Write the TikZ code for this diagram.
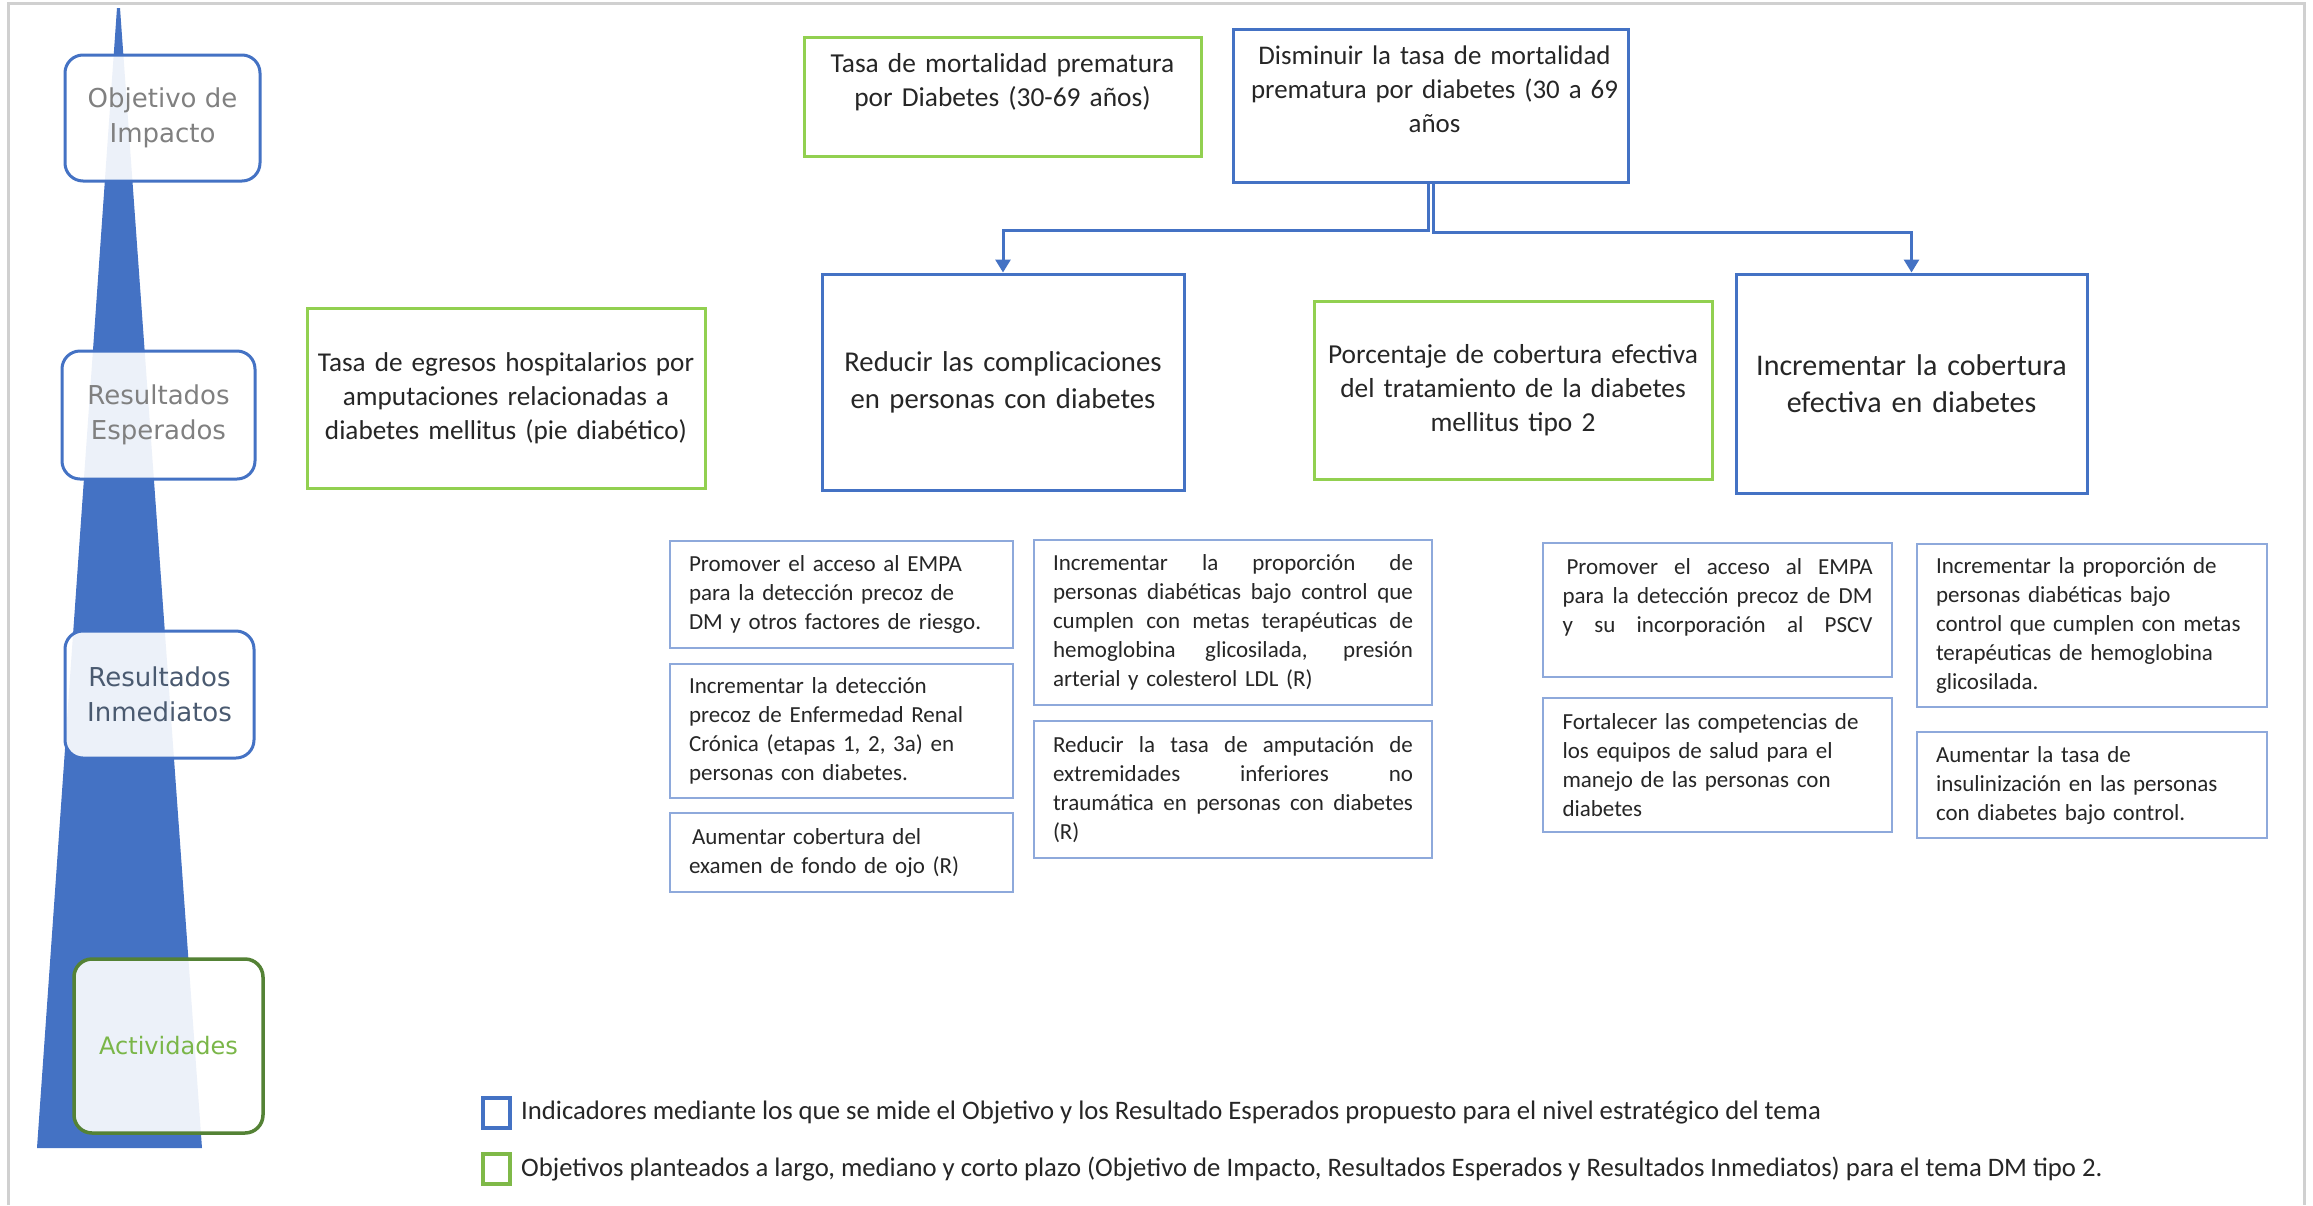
\documentclass[tikz,border=0pt]{standalone}
\usepackage{fontspec}
\setmainfont{Carlito}
\newfontfamily\dejavu{DejaVu Sans}
\usetikzlibrary{arrows.meta}
\definecolor{oblue}{HTML}{4472C4}
\definecolor{ogreen}{HTML}{92D050}
\definecolor{dgreen}{HTML}{548235}
\definecolor{lgreentxt}{HTML}{7AB648}
\definecolor{lblue}{HTML}{8EA9DB}
\definecolor{txt}{HTML}{262626}
\definecolor{framec}{HTML}{D0D0D0}
\definecolor{graytxt}{HTML}{808080}
\definecolor{slatetxt}{HTML}{4A5A70}
\newcommand{\jl}[2]{\leavevmode\hbox to #1{\spaceskip=\fontdimen2\font plus 1fil\relax #2}}
\tikzset{
  bigbox/.style={line width=3pt, fill=white, inner sep=0pt, align=center, text=txt},
  bluebox/.style={bigbox, draw=oblue},
  greenbox/.style={bigbox, draw=ogreen},
  actbox/.style={draw=lblue, line width=2pt, fill=white, inner sep=0pt, align=left, text=txt,
                 font=\fontsize{23}{29}\selectfont},
  lvlbox/.style={draw=oblue, line width=3pt, rounded corners=18pt, fill=white, fill opacity=0.9,
                 text opacity=1, inner sep=0pt, align=center, font=\dejavu\fontsize{26}{35}\selectfont},
  conn/.style={draw=oblue, line width=3pt, -{Triangle[width=15pt,length=13pt]}},
  legsq/.style={line width=4pt, minimum width=27pt, minimum height=30pt, inner sep=0pt},
  legtxt/.style={anchor=west, inner sep=0pt, text=txt, font=\fontsize{26.7}{30}\selectfont}
}
\begin{document}
\begin{tikzpicture}[x=1pt,y=-1pt]
\useasboundingbox (0,0) rectangle (2313,1205);
\fill[white] (0,0) rectangle (2313,1205);
% frame
\draw[framec, line width=3pt] (8,1205) -- (8,3) -- (2304,3) -- (2304,1205);

% pyramid
\fill[oblue] (117,8) -- (120,8) -- (202,1148) -- (37,1148) -- cycle;

% level boxes
\node[lvlbox, minimum width=195pt, minimum height=126pt, text=graytxt] (l1) at (162.5,118) {Objetivo de\\Impacto};
\node[lvlbox, minimum width=193pt, minimum height=128pt, text=graytxt] (l2) at (158.5,415) {Resultados\\Esperados};
\node[lvlbox, minimum width=189pt, minimum height=127pt, text=slatetxt] (l3) at (159.5,694.5) {Resultados\\Inmediatos};
\node[lvlbox, draw=dgreen, line width=3.5pt, minimum width=189pt, minimum height=174pt, text=lgreentxt,
      font=\dejavu\fontsize{24}{35}\selectfont] (l4) at (168.5,1046) {Actividades};

% top row
\node[greenbox, minimum width=397pt, minimum height=119pt, text width=385pt,
      font=\fontsize{27.4}{34}\selectfont] (g1) at (1002.5,96.5)
      {Tasa de mortalidad prematura\\por Diabetes (30-69 años)\\\mbox{}};
\node[bluebox, minimum width=395pt, minimum height=153pt, text width=385pt,
      font=\fontsize{26.9}{34}\selectfont] (b1) at (1430.5,106)
      {\hspace{8pt}Disminuir la tasa de mortalidad\\\hspace{8pt}prematura por diabetes (30 a 69\\\hspace{8pt}años\\\mbox{}};

% second row
\node[greenbox, minimum width=398pt, minimum height=180pt, text width=392pt,
      font=\fontsize{27.2}{34}\selectfont] (g2) at (506,398)
      {Tasa de egresos hospitalarios por\\amputaciones relacionadas a\\diabetes mellitus (pie diabético)};
\node[bluebox, minimum width=362pt, minimum height=216pt, text width=352pt,
      font=\fontsize{28.7}{37}\selectfont] (b2) at (1003,382)
      {Reducir las complicaciones\\en personas con diabetes};
\node[greenbox, minimum width=398pt, minimum height=178pt, text width=394pt,
      font=\fontsize{27.4}{34}\selectfont] (g3) at (1513,390)
      {Porcentaje de cobertura efectiva\\del tratamiento de la diabetes\\mellitus tipo 2};
\node[bluebox, minimum width=351pt, minimum height=219pt, text width=345pt,
      font=\fontsize{30}{37}\selectfont] (b3) at (1911.5,383.5)
      {Incrementar la cobertura\\efectiva en diabetes};

% connectors
\draw[conn] ([xshift=-2.5pt]b1.south) -- ++(0,46) -| (b2.north);
\draw[conn] ([xshift=2.5pt]b1.south) -- ++(0,48) -| (b3.north);

% activity boxes
\node[actbox, minimum width=343pt, minimum height=107pt, text width=305pt] (a1) at (841.5,594.5)
  {Promover el acceso al EMPA\\para la detección precoz de\\DM y otros factores de riesgo.};
\node[actbox, minimum width=343pt, minimum height=134pt, text width=305pt] (a2) at (841.5,731)
  {Incrementar la detección\\precoz de Enfermedad Renal\\Crónica (etapas 1, 2, 3a) en\\personas con diabetes.};
\node[actbox, minimum width=343pt, minimum height=79pt, text width=305pt] (a3) at (841.5,852.5)
  {\hspace{3pt}Aumentar cobertura del\\examen de fondo de ojo (R)};
\node[actbox, minimum width=398pt, minimum height=165pt, text width=360pt] (a4) at (1233,622.5)
  {\jl{360pt}{Incrementar la proporción de}\\\jl{360pt}{personas diabéticas bajo control que}\\\jl{360pt}{cumplen con metas terapéuticas de}\\\jl{360pt}{hemoglobina glicosilada, presión}\\arterial y colesterol LDL (R)};
\node[actbox, minimum width=398pt, minimum height=137pt, text width=360pt] (a5) at (1233,789.5)
  {\jl{360pt}{Reducir la tasa de amputación de}\\\jl{360pt}{extremidades inferiores no}\\\jl{360pt}{traumática en personas con diabetes}\\(R)};
\node[actbox, minimum width=349pt, minimum height=134pt, text width=310pt] (a6) at (1717.5,610)
  {\jl{310pt}{\hspace{4pt}Promover el acceso al EMPA}\\\jl{310pt}{para la detección precoz de DM}\\\jl{310pt}{y su incorporación al PSCV}\\\mbox{}};
\node[actbox, minimum width=349pt, minimum height=134pt, text width=310pt] (a7) at (1717.5,765)
  {Fortalecer las competencias de\\los equipos de salud para el\\manejo de las personas con\\diabetes};
\node[actbox, minimum width=350pt, minimum height=163pt, text width=312pt] (a8) at (2092,625.5)
  {Incrementar la proporción de\\personas diabéticas bajo\\control que cumplen con metas\\terapéuticas de hemoglobina\\glicosilada.};
\node[actbox, minimum width=350pt, minimum height=106pt, text width=312pt] (a9) at (2092,785)
  {Aumentar la tasa de\\insulinización en las personas\\con diabetes bajo control.};

% legend
\node[legsq, draw=oblue] (lgb) at (496.5,1113) {};
\node[legsq, draw=ogreen!70!dgreen] (lgg) at (496.5,1169) {};
\node[legtxt] (ltb) at (521,1113) {Indicadores mediante los que se mide el Objetivo y los Resultado Esperados propuesto para el nivel estratégico del tema};
\node[legtxt] (ltg) at (521,1169) {Objetivos planteados a largo, mediano y corto plazo (Objetivo de Impacto, Resultados Esperados y Resultados Inmediatos) para el tema DM tipo 2.};
\end{tikzpicture}
\end{document}
